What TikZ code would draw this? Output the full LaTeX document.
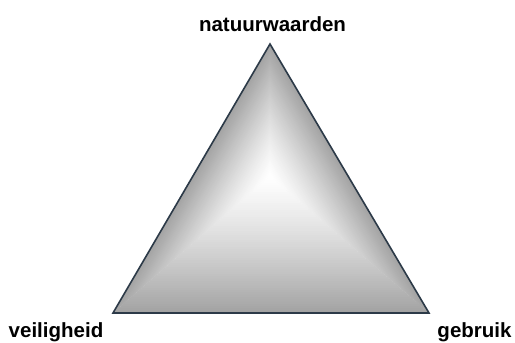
\documentclass[tikz,border=0pt]{standalone}
\usepackage{fontspec}
\setmainfont{Liberation Sans}
\usetikzlibrary{calc}
\definecolor{edgeclr}{RGB}{44,58,72}
\tikzset{
  lbl/.style={font=\fontsize{20.5}{24}\selectfont\bfseries, inner sep=0pt, anchor=base, text=black},
  outline/.style={draw=edgeclr, line width=1.6pt, line join=miter}
}
\begin{document}
\begin{tikzpicture}[x=1pt,y=1pt]
\useasboundingbox (0,0) rectangle (515,343);
\coordinate (A) at (270,299);
\coordinate (B) at (113,30);
\coordinate (C) at (429,30);
\coordinate (O) at (270,167);
% bevel-like gradient: three sub-triangles, each fading from edge to centre
\foreach \P/\Q in {B/C, A/B, C/A}{
  \foreach \i in {0,...,59}{
    \pgfmathsetmacro\ta{\i/60}
    \pgfmathsetmacro\tb{min((\i+1.6)/60,1)}
    \pgfmathsetmacro\cc{36*(1-\ta)^1.25}
    \fill[black!\cc!white]
      ($(\P)!\ta!(O)$) -- ($(\Q)!\ta!(O)$) -- ($(\Q)!\tb!(O)$) -- ($(\P)!\tb!(O)$) -- cycle;
  }
}
\draw[outline] (A) -- (B) -- (C) -- cycle;
\node[lbl] (top) at (272.5,311.5) {natuurwaarden};
\node[lbl] (left) at (56,5.5) {veiligheid};
\node[lbl] (right) at (474.5,5) {gebruik};
\end{tikzpicture}
\end{document}
